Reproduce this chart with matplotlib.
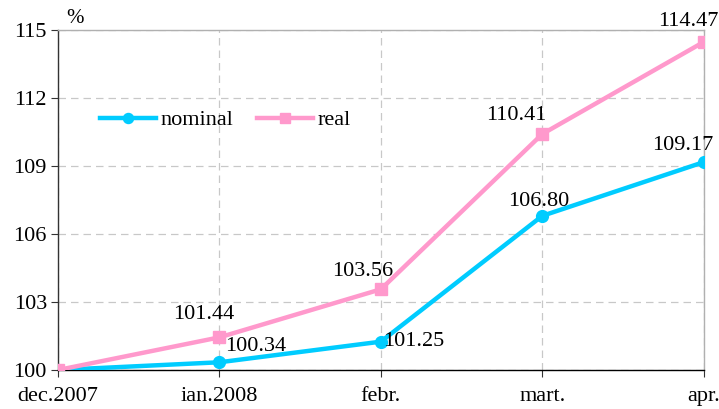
import matplotlib
matplotlib.use("Agg")
import matplotlib.pyplot as plt

plt.rcParams['font.family'] = ['Liberation Serif', 'DejaVu Serif']

months = ["dec.2007", "ian.2008", "febr.", "mart.", "apr."]
nominal = [100.0, 100.34, 101.25, 106.80, 109.17]
real = [100.0, 101.44, 103.56, 110.41, 114.47]
yticks = [100, 103, 106, 109, 112, 115]

fig = plt.figure(figsize=(7.19, 4.09), dpi=100)
ax = fig.add_axes([0.0807, 0.0954, 0.898, 0.8313])

x = list(range(len(months)))
ax.plot(x, nominal, color="#00CCFF", lw=3.2, marker="o", ms=8.5, label="nominal", zorder=3)
ax.plot(x, real, color="#FF99CC", lw=3.2, marker="s", ms=8.5, label="real", zorder=4)

ax.set_xlim(0, 4)
ax.set_ylim(100, 115)
ax.set_yticks(yticks)
ax.set_xticks(x)
ax.set_xticklabels(months)
ax.tick_params(labelsize=16, length=5, color="#333333")
ax.tick_params(axis="x", pad=7)
ax.tick_params(axis="y", pad=3)

ax.grid(True, ls=(0, (6, 4)), color="#C8C8C8", lw=0.9)
ax.set_axisbelow(True)
ax.spines["top"].set_color("#B0B0B0")
ax.spines["right"].set_color("#B0B0B0")
ax.spines["left"].set_color("#333333")
ax.spines["bottom"].set_color("black")
for s in ax.spines.values():
    s.set_linewidth(1.0)

# value labels: (dx px, dy px, ha)
nom_off = [None, (6, 16, "left"), (2, 0, "left"), (-4, 14, "center"), (-21, 17, "center")]
real_off = [None, (-16, 23, "center"), (-18, 18, "center"), (-26, 19, "center"), (-15, 20, "center")]
for vals, offs in ((nominal, nom_off), (real, real_off)):
    for i in range(len(months)):
        if offs[i] is None:
            continue
        dx, dy, ha = offs[i]
        ax.annotate(f"{vals[i]:.2f}", (x[i], vals[i]), xytext=(dx, dy),
                    textcoords="offset pixels", ha=ha, va="center",
                    fontsize=16, annotation_clip=False, zorder=5)

ax.text(0.012, 1.005, "%", transform=ax.transAxes, fontsize=15, va="bottom")

ax.legend(loc="center left", bbox_to_anchor=(0.065, 0.735), ncol=2, frameon=False,
          fontsize=16, handlelength=2.5, handletextpad=0.2, columnspacing=1.1,
          borderaxespad=0, borderpad=0, markerscale=0.85)

fig.savefig("out.png", dpi=100)
